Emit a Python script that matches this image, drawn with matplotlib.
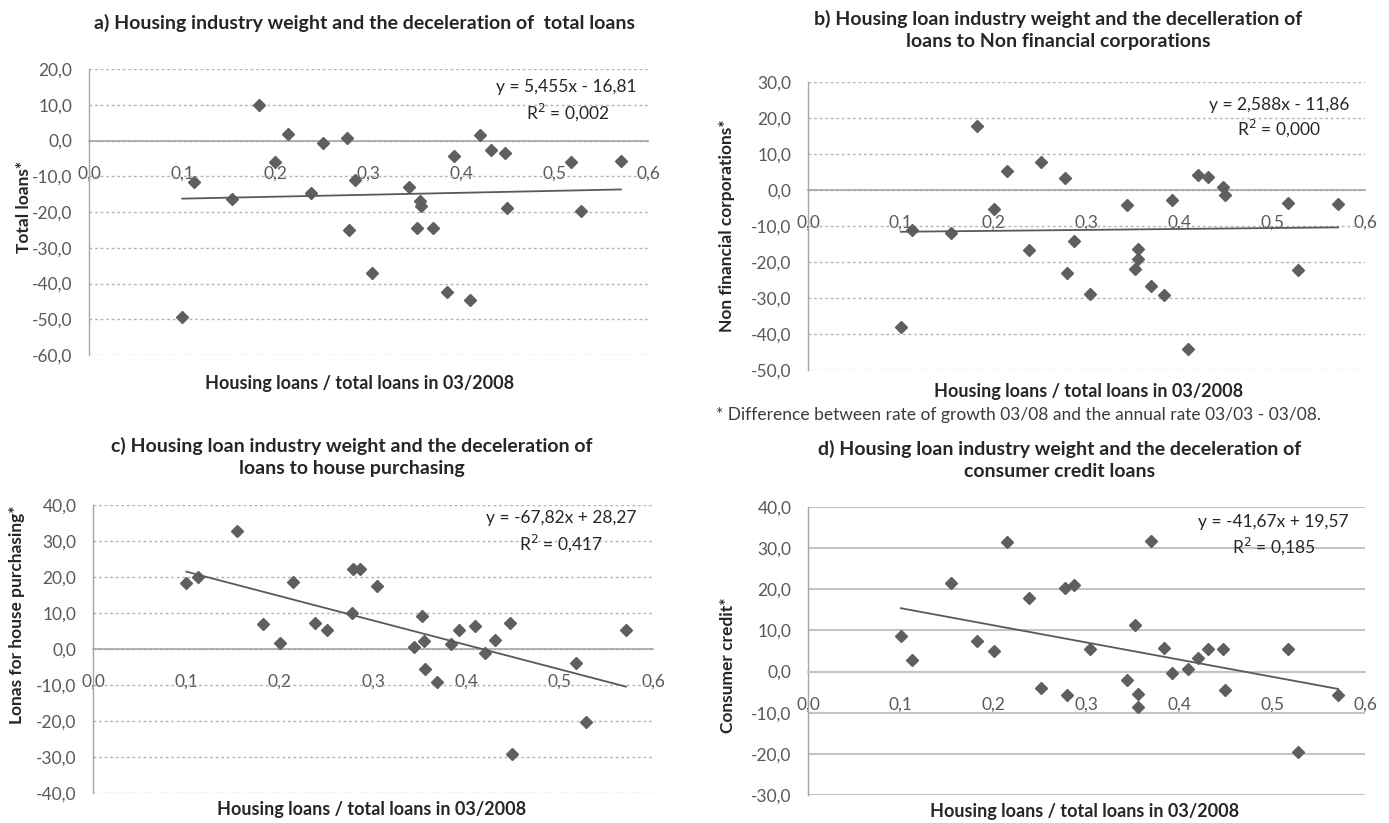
import matplotlib
matplotlib.use("Agg")
import matplotlib.pyplot as plt
import numpy as np

# ---------------- data ----------------
housing_share = [0.100, 0.1125, 0.154, 0.182, 0.200, 0.214, 0.238, 0.251, 0.277, 0.279,
                 0.286, 0.304, 0.344, 0.352, 0.355, 0.356, 0.369, 0.384, 0.392, 0.409,
                 0.420, 0.431, 0.447, 0.449, 0.517, 0.528, 0.571]

total_loans = [-49.4, -11.6, -16.3, 9.8, -6.1, 1.7, -14.7, -0.7, 0.7, -24.9,
               -11.1, -37.0, -12.9, -24.4, -17.0, -18.2, -24.6, -42.4, -4.4, -44.5,
               1.6, -2.6, -3.4, -18.8, -6.1, -19.8, -5.8]

nfc_loans = [-38.0, -11.1, -12.0, 17.9, -5.4, 5.3, -16.6, 7.7, 3.3, -23.0,
             -14.2, -29.0, -4.1, -22.0, -16.3, -19.1, -26.6, -29.1, -2.8, -44.3,
             4.2, 3.5, 0.9, -1.3, -3.5, -22.1, -4.0]

house_loans = [18.4, 20.0, 32.7, 6.9, 1.7, 18.6, 7.3, 5.3, 10.0, 22.2,
               22.2, 17.4, 0.6, 9.3, 2.3, -5.5, -9.2, 1.3, 5.2, 6.4,
               -1.1, 2.4, 7.1, -29.1, -3.9, -20.3, 5.3]

consumer_credit = [8.7, 2.9, 21.6, 7.5, 4.9, 31.5, 17.8, -4.0, 20.2, -5.8,
                   21.0, 5.5, -2.1, 11.3, -5.4, -8.5, 31.8, 5.8, -0.3, 0.6,
                   3.2, 5.4, 5.5, -4.5, 5.4, -19.5, -5.6]

trend_slope = [5.455, 2.588, -67.82, -41.67]
trend_intercept = [-16.81, -11.86, 28.27, 19.57]
trend_eq = ["y = 5,455x - 16,81", "y = 2,588x - 11,86", "y = -67,82x + 28,27", "y = -41,67x + 19,57"]
trend_r2 = ["R$^2$ = 0,002", "R$^2$ = 0,000", "R$^2$ = 0,417", "R$^2$ = 0,185"]

titles = ["a) Housing industry weight and the deceleration of  total loans",
          "b) Housing loan industry weight and the decelleration of\nloans to Non financial corporations",
          "c) Housing loan industry weight and the deceleration of\nloans to house purchasing",
          "d) Housing loan industry weight and the deceleration of\nconsumer credit loans"]
ylabels = ["Total loans*", "Non financial corporations*", "Lonas for house purchasing*", "Consumer credit*"]
xlabel = "Housing loans / total loans in 03/2008"
footnote = "* Difference between rate of growth 03/08 and the annual rate 03/03 - 03/08."
y_ranges = [(-60, 20), (-50, 30), (-40, 40), (-30, 40)]
x_ticks = [0.0, 0.1, 0.2, 0.3, 0.4, 0.5, 0.6]

# ---------------- figure ----------------
W, H = 1389, 823
plt.rcParams['font.family'] = ['Lato', 'DejaVu Sans']
fig = plt.figure(figsize=(W / 100, H / 100), dpi=100)


def fx(px):
    return px / W


def fy(py):
    return 1 - py / H


# axes boxes in reference pixels: left, right, top, bottom
boxes = [(89, 648, 69, 355), (808, 1365, 82, 370), (93, 653, 505, 793), (808, 1365, 507, 795)]
title_pos = [(364, 23), (1058, 30), (352, 457), (1060, 460)]
ylabel_pos = [(24, 207), (727, 226), (17, 615), (728, 665)]
xlabel_pos = [(360, 383), (1089, 392), (372, 810), (1085, 812)]
eq_pos = [(566, 87, 568, 112), (1279, 105, 1279, 128), (561, 518, 561, 543), (1273, 522, 1274, 546)]

series = [total_loans, nfc_loans, house_loans, consumer_credit]
grid_col = '#b4b4b4'
txt_col = '#595959'
dark = '#262626'

for i in range(4):
    l, r, t, b = boxes[i]
    ax = fig.add_axes([fx(l), fy(b), fx(r - l), (b - t) / H])
    ymin, ymax = y_ranges[i]
    ax.set_xlim(0, 0.6)
    ax.set_ylim(ymin, ymax)
    ax.set_yticks(np.arange(ymin, ymax + 1, 10))
    ax.set_xticks(x_ticks)
    ax.set_xticklabels([f"{v:.1f}".replace('.', ',') for v in x_ticks])
    ax.set_yticklabels([f"{v:.1f}".replace('.', ',') for v in np.arange(ymin, ymax + 1, 10)])
    if i == 3:
        ax.yaxis.grid(True, color='#c4c4c4', lw=1.5, ls='-')
    else:
        ax.yaxis.grid(True, color=grid_col, lw=1.0, ls=(0, (2, 2)))
    ax.set_axisbelow(True)
    for s in ['top', 'right']:
        ax.spines[s].set_visible(False)
    ax.spines['left'].set_color('#a6a6a6')
    ax.spines['left'].set_linewidth(1.0)
    ax.spines['bottom'].set_position(('data', 0))
    ax.spines['bottom'].set_color('#a6a6a6' if i < 3 else '#c4c4c4')
    ax.spines['bottom'].set_linewidth(1.2 if i < 3 else 1.5)
    ax.tick_params(axis='x', length=0, pad=18, labelsize=12.5, labelcolor=txt_col)
    ax.tick_params(axis='y', length=0, pad=12, labelsize=12.5, labelcolor=txt_col)
    ax.set_facecolor('none')

    ax.plot(housing_share, series[i], ls='none', marker='D', ms=6.5, color='#5f5f5f',
            mec='#5f5f5f', zorder=3, clip_on=False)
    xs = np.array([min(housing_share), max(housing_share)])
    ax.plot(xs, trend_slope[i] * xs + trend_intercept[i], color='#595959', lw=1.3, zorder=4)

    ex, ey, rx, ry = eq_pos[i]
    fig.text(fx(ex), fy(ey), trend_eq[i], ha='center', va='center', fontsize=12.5, color=dark)
    fig.text(fx(rx), fy(ry), trend_r2[i], ha='center', va='center', fontsize=12.5, color=dark)

    tx, ty = title_pos[i]
    fig.text(fx(tx), fy(ty), titles[i], ha='center', va='center', fontsize=14,
             fontweight='bold', color=dark, linespacing=1.3)
    lx, ly = ylabel_pos[i]
    fig.text(fx(lx), fy(ly), ylabels[i], ha='center', va='center', rotation=90,
             fontsize=12.5, fontweight='bold', color=dark)
    xx, xy = xlabel_pos[i]
    fig.text(fx(xx), fy(xy), xlabel, ha='center', va='center', fontsize=13,
             fontweight='bold', color=dark)

fig.text(fx(716), fy(415), footnote, ha='left', va='center', fontsize=12.5, color='#3a3a3a')

fig.savefig("out.png", dpi=100)
